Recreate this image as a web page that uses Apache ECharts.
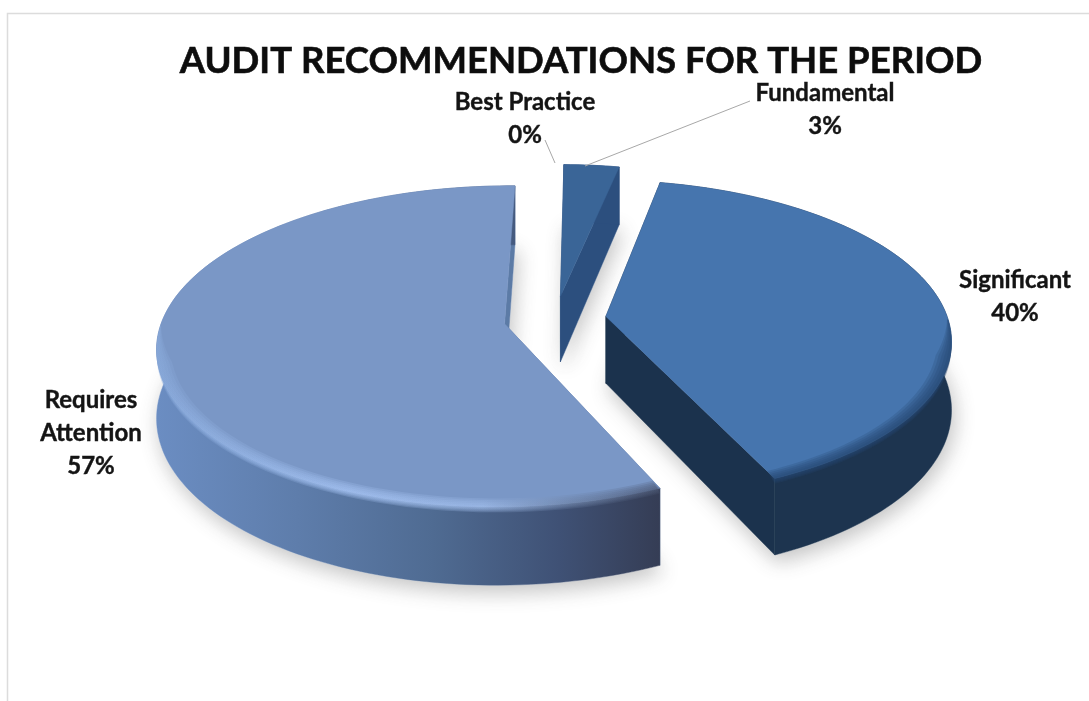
<!DOCTYPE html>
<html>
<head>
<meta charset="utf-8">
<title>Audit recommendations</title>
<style>html,body{margin:0;padding:0;background:#fff}#chart{width:1089px;height:701px}</style>
<script src="https://cdn.jsdelivr.net/npm/echarts@6/dist/echarts.min.js"></script>
</head>
<body>
<div id="chart"></div>
<script>
// Recommendation counts as percentages, clockwise from twelve o'clock.
const categories = ['Best Practice', 'Fundamental', 'Significant', 'Requires Attention'];
const shares = [0, 3, 40, 57];
const chartTitle = 'AUDIT RECOMMENDATIONS FOR THE PERIOD';

// Perspective disc: centre, radii, foreshortening and extrusion depth.
const view = { cx: 555, cy: 319, rx: 342, ry: 156, tilt: 0.14, depth: 67, firstAngle: 0.8, explode: 0.15 };

// Label anchors and leader lines, one entry per category.
const labelBoxes = [
  { x: 525, y: 119, line: [[545, 140], [555, 163]] },
  { x: 825, y: 110, line: [[750, 101], [585, 166]] },
  { x: 1015, y: 297 },
  { x: 91, y: 433, wrap: true }
];

// Surface colours per category.
const looks = [
  null,
  { top: '#3a6597', cut: '#2c4f7e', rim: '#2c4f7e', bevel: null },
  { top: '#4675ae', cut: '#1b324d', rim: '#1d344f', bevel: '#27466f' },
  {
    top: '#7a97c6', cut: '#5c7ba6',
    rim: [[0, '#6b8dc2'], [0.28, '#5e7dab'], [0.55, '#4f6b92'], [0.8, '#3f5175'], [1, '#353d55']],
    bevel: [[0, '#8aabdc'], [0.38, '#a6c4f4'], [0.65, '#9fbcea'], [0.82, '#6f85aa'], [1, '#4a5672']]
  }
];

const total = shares.reduce((a, b) => a + b, 0);
const rad = d => d * Math.PI / 180;

function project(deg, r, z, off) {
  const u = r * Math.sin(rad(deg)) + off[0];
  const v = -r * Math.cos(rad(deg)) + off[1];
  const w = 1 - view.tilt * v;
  return [view.cx + view.rx * u / w, view.cy + (view.ry * v + view.depth * z) / w];
}

function angleSteps(a0, a1) {
  const out = [];
  const steps = Math.max(2, Math.ceil(Math.abs(a1 - a0) / 1.5));
  for (let i = 0; i <= steps; i++) out.push(a0 + (a1 - a0) * i / steps);
  return out;
}

function arcPoints(a0, a1, r, z, off) {
  return angleSteps(a0, a1).map(a => project(a, r, z, off));
}

function horizontalFill(stops, x0, x1) {
  if (typeof stops === 'string') return stops;
  return new echarts.graphic.LinearGradient(x0, 0, x1, 0,
    stops.map(s => ({ offset: s[0], color: s[1] })), true);
}

function polygon(points, fill, z2, extra) {
  return {
    type: 'polygon', z2, silent: true, shape: { points },
    style: Object.assign({ fill, stroke: fill, lineWidth: 0.5 }, extra || {})
  };
}

// Band along the viewer-facing rim; it tapers to nothing at the disc's sides.
function bevelBand(a0, a1, inset, drop, off) {
  const angles = angleSteps(a0, a1).filter(a => Math.cos(rad(a)) < 0);
  const taper = a => Math.min(1, -Math.cos(rad(a)) * 4);
  const outer = angles.map(a => project(a, 1, drop * taper(a), off));
  const inner = angles.map(a => project(a, 1 - inset * taper(a), 0, off));
  return outer.concat(inner.reverse());
}

function renderSlice(params, api) {
  const idx = params.dataIndex;
  const value = api.value(0);
  const children = [];
  const before = shares.slice(0, idx).reduce((a, b) => a + b, 0);
  const a0 = view.firstAngle + before / total * 360;
  const a1 = a0 + value / total * 360;
  const look = looks[idx];

  if (value > 0 && look) {
    const mid = (a0 + a1) / 2;
    const off = [view.explode * Math.sin(rad(mid)), -view.explode * Math.cos(rad(mid))];
    const apexTop = project(0, 0, 0, off);
    const apexBase = project(0, 0, 1, off);
    const rimTop = arcPoints(a0, a1, 1, 0, off);
    const rimBase = arcPoints(a0, a1, 1, 1, off);
    const xs = rimBase.map(p => p[0]).concat(apexBase[0]);
    const fillX0 = Math.min.apply(null, xs);
    const fillX1 = Math.max.apply(null, xs);

    // Soft drop shadow from the slice's footprint.
    children.push(polygon([apexBase].concat(rimBase), '#ffffff', 1, {
      shadowBlur: 20, shadowOffsetX: 3, shadowOffsetY: 7, shadowColor: 'rgba(70,70,70,0.32)'
    }));
    // Cut walls, then the outer wall over them, then the top face.
    children.push(polygon([apexTop, apexBase, rimBase[0], rimTop[0]], look.cut, 4));
    children.push(polygon([apexTop, apexBase, rimBase[rimBase.length - 1], rimTop[rimTop.length - 1]], look.cut, 4));
    children.push(polygon(rimTop.concat(rimBase.slice().reverse()),
      horizontalFill(look.rim, fillX0, fillX1), 5));
    children.push(polygon([apexTop].concat(rimTop), look.top, 8));

    // Rounded bevel, layered so it fades on both sides of the rim edge.
    if (look.bevel) {
      const fill = horizontalFill(look.bevel, fillX0, fillX1);
      [[0.04, 0.07], [0.032, 0.055], [0.024, 0.04], [0.016, 0.028], [0.008, 0.016]].forEach((b, i) => {
        children.push({
          type: 'polygon', z2: 9 + i, silent: true,
          shape: { points: bevelBand(a0, a1, b[0], b[1], off) },
          style: { fill, opacity: 0.24 }
        });
      });
    }
  }

  const box = labelBoxes[idx];
  if (box.line) {
    children.push({
      type: 'polyline', z2: 20, silent: true, shape: { points: box.line },
      style: { fill: null, stroke: '#a8a8a8', lineWidth: 1 }
    });
  }
  const name = box.wrap ? categories[idx].split(' ').join('\n') : categories[idx];
  children.push({
    type: 'text', z2: 21, silent: true, x: box.x, y: box.y,
    style: {
      text: name + '\n' + value + '%',
      fill: '#141414', stroke: '#141414', lineWidth: 0.4,
      font: 'bold 24px Lato', lineHeight: 33,
      align: 'center', verticalAlign: 'middle'
    }
  });
  return { type: 'group', children };
}

const chart = echarts.init(document.getElementById('chart'), null, { renderer: 'canvas' });
chart.setOption({
  animation: false,
  backgroundColor: '#ffffff',
  title: {
    text: chartTitle, left: 576, top: 38, textAlign: 'center',
    textStyle: {
      fontFamily: 'Lato', fontWeight: 'bold', fontSize: 36.5, color: '#0d0d0d',
      textBorderColor: '#0d0d0d', textBorderWidth: 0.6
    }
  },
  graphic: [{
    type: 'polyline', silent: true,
    shape: { points: [[7.5, 701], [7.5, 13.5], [1089, 13.5]] },
    style: { fill: null, stroke: '#dcdcdc', lineWidth: 1.5 }
  }],
  series: [{
    type: 'custom',
    coordinateSystem: 'none',
    renderItem: renderSlice,
    data: shares.map((v, i) => ({ name: categories[i], value: [v] }))
  }]
});
</script>
</body>
</html>
